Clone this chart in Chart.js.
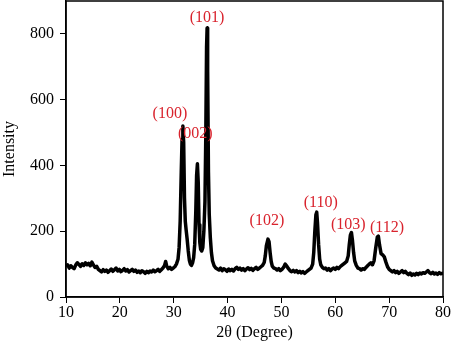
<!DOCTYPE html>
<html>
<head>
<meta charset="utf-8">
<script src="https://cdn.jsdelivr.net/npm/chart.js@4"></script>
<style>
  html, body { margin: 0; padding: 0; background: #fff; }
  #wrap { width: 451px; height: 348px; }
</style>
</head>
<body>
<div id="wrap"><canvas id="xrdChart" width="451" height="348"></canvas></div>
<script>
const twoTheta = [
  10.0, 10.3, 10.6, 10.9, 11.2, 11.5, 11.8, 12.1, 12.4, 12.7, 13.0, 13.3, 13.6, 13.9, 14.2, 14.5, 14.8, 15.1, 15.4, 15.7,
  16.0, 16.3, 16.6, 16.9, 17.2, 17.5, 17.8, 18.1, 18.4, 18.7, 19.0, 19.3, 19.6, 19.9, 20.2, 20.5, 20.8, 21.1, 21.4, 21.7,
  22.0, 22.3, 22.6, 22.9, 23.2, 23.5, 23.8, 24.1, 24.4, 24.7, 25.0, 25.3, 25.6, 25.9, 26.2, 26.5, 26.8, 27.1, 27.4, 27.7,
  28.0, 28.3, 28.5, 28.7, 29.0, 29.3, 29.6, 29.9, 30.2, 30.5, 30.8, 31.0, 31.2, 31.4, 31.55, 31.7, 31.85, 32.0, 32.15, 32.3,
  32.5, 32.7, 32.9, 33.1, 33.3, 33.5, 33.7, 33.9, 34.1, 34.25, 34.4, 34.55, 34.7, 34.85, 35.0, 35.2, 35.4, 35.6, 35.8, 35.95,
  36.1, 36.2, 36.3, 36.45, 36.6, 36.8, 37.0, 37.2, 37.5, 37.8, 38.1, 38.4, 38.7, 39.0, 39.3, 39.6, 39.9, 40.2, 40.5, 40.8,
  41.1, 41.4, 41.7, 42.0, 42.3, 42.6, 42.9, 43.2, 43.5, 43.8, 44.1, 44.4, 44.7, 45.0, 45.3, 45.6, 45.9, 46.2, 46.5, 46.8,
  47.0, 47.2, 47.5, 47.7, 47.9, 48.1, 48.3, 48.6, 48.9, 49.2, 49.5, 49.8, 50.1, 50.4, 50.7, 51.0, 51.3, 51.6, 51.9, 52.2,
  52.5, 52.8, 53.1, 53.4, 53.7, 54.0, 54.3, 54.6, 54.9, 55.2, 55.5, 55.8, 56.0, 56.2, 56.4, 56.55, 56.7, 56.9, 57.1, 57.3,
  57.6, 57.9, 58.2, 58.5, 58.8, 59.1, 59.4, 59.7, 60.0, 60.3, 60.6, 60.9, 61.2, 61.5, 61.8, 62.1, 62.4, 62.6, 62.8, 63.0,
  63.2, 63.4, 63.6, 63.9, 64.2, 64.5, 64.8, 65.1, 65.4, 65.7, 66.0, 66.3, 66.6, 66.9, 67.2, 67.5, 67.8, 68.0, 68.2, 68.5,
  68.8, 69.1, 69.4, 69.7, 70.0, 70.3, 70.6, 70.9, 71.2, 71.5, 71.8, 72.1, 72.4, 72.7, 73.0, 73.3, 73.6, 73.9, 74.2, 74.5,
  74.8, 75.1, 75.4, 75.7, 76.0, 76.3, 76.6, 76.9, 77.2, 77.5, 77.8, 78.1, 78.4, 78.7, 79.0, 79.3, 79.6, 80.0
];

const intensity = [
  92, 98, 88, 95, 90, 86, 97, 104, 99, 93, 101, 96, 104, 98, 102, 95, 106, 97, 90, 93,
  84, 80, 76, 83, 78, 82, 75, 80, 85, 78, 83, 88, 79, 84, 77, 81, 86, 79, 83, 76,
  80, 84, 78, 82, 75, 79, 74, 80, 77, 72, 78, 74, 79, 76, 82, 77, 80, 84, 78, 83,
  88, 96, 108, 94, 86, 90, 84, 88, 92, 100, 115, 150, 230, 380, 480, 520, 470, 300, 230, 205,
  175, 140, 112, 100, 96, 104, 120, 160, 260, 370, 405, 350, 220, 165, 145, 140, 150, 200, 290, 480,
  760, 818, 690, 380, 250, 180, 135, 110, 95, 88, 85, 82, 88, 80, 86, 83, 78, 85, 80, 84,
  79, 86, 90, 84, 88, 82, 86, 80, 85, 89, 83, 87, 81, 86, 90, 84, 88, 92, 96, 105,
  125, 155, 176, 168, 135, 108, 94, 88, 86, 82, 86, 80, 84, 90, 100, 94, 86, 80, 77, 81,
  76, 80, 74, 78, 73, 77, 72, 76, 80, 84, 88, 100, 135, 200, 250, 258, 225, 160, 115, 98,
  90, 86, 88, 82, 86, 80, 85, 88, 84, 90, 86, 92, 96, 100, 104, 108, 125, 160, 188, 196,
  170, 135, 110, 96, 88, 86, 82, 86, 84, 90, 95, 100, 104, 98, 110, 148, 182, 185, 160, 132,
  128, 122, 106, 92, 84, 80, 76, 80, 74, 78, 72, 76, 80, 74, 78, 72, 68, 73, 66, 70,
  67, 72, 68, 73, 70, 74, 72, 76, 80, 74, 71, 75, 70, 73, 69, 74, 71, 72
];

const xTicks = [10, 20, 30, 40, 50, 60, 70, 80];
const yTicks = [0, 200, 400, 600, 800];

const peakNames = ["(100)", "(002)", "(101)", "(102)", "(110)", "(103)", "(112)"];
const peakAnchors = [
  { x: 29.3, y: 557 }, { x: 34.0, y: 496 }, { x: 36.2, y: 849 }, { x: 47.3, y: 231 },
  { x: 57.3, y: 286 }, { x: 62.4, y: 219 }, { x: 69.6, y: 210 }
];

const serif = "'Liberation Serif', 'DejaVu Serif', serif";

const frameAndLabels = {
  id: "frameAndLabels",
  afterDatasetsDraw(chart) {
    const { ctx, chartArea, scales } = chart;
    ctx.save();
    ctx.strokeStyle = "#000";
    ctx.lineWidth = 1.5;
    ctx.strokeRect(chartArea.left, chartArea.top, chartArea.right - chartArea.left, chartArea.bottom - chartArea.top);
    ctx.fillStyle = "#d9232d";
    ctx.font = "16px " + serif;
    ctx.textAlign = "center";
    ctx.textBaseline = "middle";
    peakNames.forEach((name, i) => {
      ctx.fillText(name, scales.x.getPixelForValue(peakAnchors[i].x), scales.y.getPixelForValue(peakAnchors[i].y));
    });
    ctx.restore();
  }
};

new Chart(document.getElementById("xrdChart"), {
  type: "line",
  data: {
    datasets: [{
      data: twoTheta.map((t, i) => ({ x: t, y: intensity[i] })),
      borderColor: "#000",
      borderWidth: 3.5,
      borderJoinStyle: "round",
      pointRadius: 0,
      tension: 0,
      fill: false
    }]
  },
  options: {
    responsive: false,
    animation: false,
    layout: { padding: { top: 1, right: 8, left: 0, bottom: 0 } },
    plugins: { legend: { display: false }, tooltip: { enabled: false } },
    scales: {
      x: {
        type: "linear",
        min: 10,
        max: 80,
        afterBuildTicks: (axis) => { axis.ticks = xTicks.map(v => ({ value: v })); },
        afterFit: (axis) => { axis.height = 51; axis.paddingLeft = 0; axis.paddingRight = 0; },
        grid: { drawOnChartArea: false, tickLength: 6, tickColor: "#000", color: "#000" },
        border: { color: "#000", width: 1.5 },
        ticks: { color: "#000", font: { family: serif, size: 16 }, padding: 0, maxRotation: 0 },
        title: { display: true, text: "2θ (Degree)", color: "#000", font: { family: serif, size: 16 }, padding: { top: 0, bottom: 6 } }
      },
      y: {
        min: 0,
        max: 900,
        afterBuildTicks: (axis) => { axis.ticks = yTicks.map(v => ({ value: v })); },
        afterFit: (axis) => { axis.width = 66; axis.paddingTop = 0; axis.paddingBottom = 0; },
        grid: { drawOnChartArea: false, tickLength: 6, tickColor: "#000", color: "#000" },
        border: { color: "#000", width: 1.5 },
        ticks: { color: "#000", font: { family: serif, size: 16 }, padding: 6 },
        title: { display: true, text: "Intensity", color: "#000", font: { family: serif, size: 16 }, padding: { top: 0, bottom: 0 } }
      }
    }
  },
  plugins: [frameAndLabels]
});
</script>
</body>
</html>
